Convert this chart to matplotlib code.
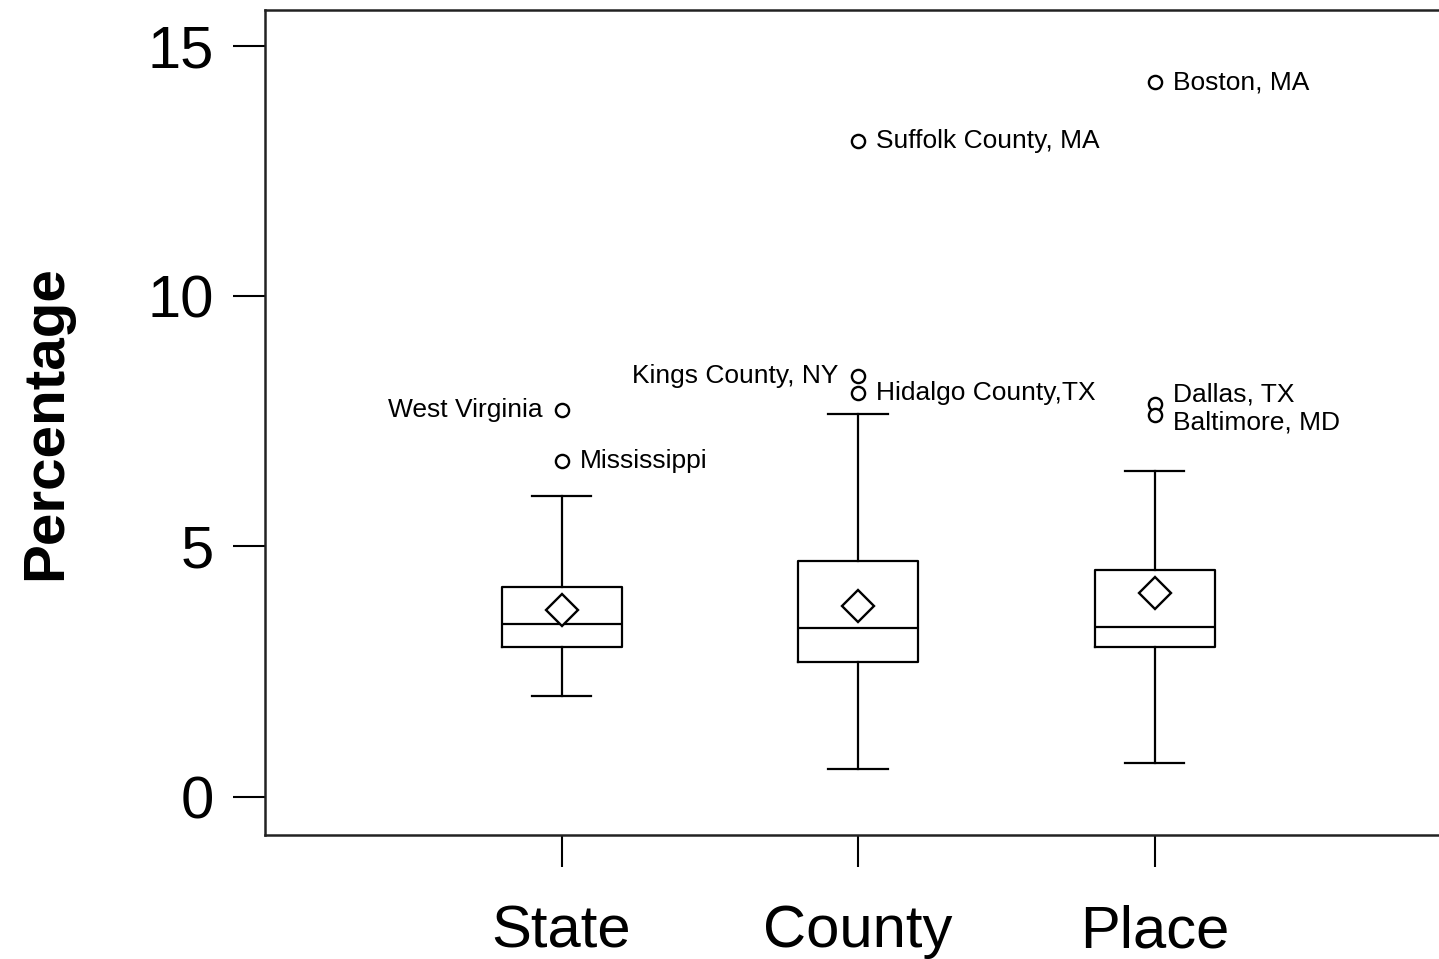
import matplotlib.pyplot as plt

plt.rcParams['font.family'] = ['Liberation Sans', 'DejaVu Sans']

# summary statistics per geography level (percent)
groups = ['State', 'County', 'Place']
whislo = [2.02, 0.56, 0.68]
q1 = [2.99, 2.69, 2.99]
med = [3.45, 3.37, 3.39]
q3 = [4.19, 4.71, 4.53]
whishi = [6.01, 7.64, 6.51]
means = [3.73, 3.81, 4.07]

# labelled outliers
out_group = [0, 0, 1, 1, 1, 2, 2, 2]
out_value = [7.72, 6.71, 8.40, 8.06, 13.09, 7.84, 7.62, 14.27]
out_name = ['West Virginia', 'Mississippi', 'Kings County, NY',
            'Hidalgo County,TX', 'Suffolk County, MA', 'Dallas, TX',
            'Baltimore, MD', 'Boston, MA']

# label placement (offset in points, horizontal alignment)
label_style = {
    'West Virginia': (-14, 0, 'right'),
    'Mississippi': (13, 0, 'left'),
    'Kings County, NY': (-14, 0, 'right'),
    'Hidalgo County,TX': (13, 0, 'left'),
    'Suffolk County, MA': (13, 0, 'left'),
    'Dallas, TX': (13, 7, 'left'),
    'Baltimore, MD': (13, -5, 'left'),
    'Boston, MA': (13, 0, 'left'),
}

fig = plt.figure(figsize=(14.39, 9.59), dpi=100)
ax = fig.add_axes([0.1842, 0.1293, 0.8242, 0.8603])

stats = []
for i, g in enumerate(groups):
    stats.append({'label': g, 'whislo': whislo[i], 'q1': q1[i], 'med': med[i],
                  'q3': q3[i], 'whishi': whishi[i], 'mean': means[i], 'fliers': []})

lw = 1.6
ax.bxp(stats, positions=[1, 2, 3], widths=0.405, showmeans=True, showfliers=False,
       boxprops=dict(color='black', linewidth=lw),
       medianprops=dict(color='black', linewidth=lw),
       whiskerprops=dict(color='black', linewidth=lw),
       capprops=dict(color='black', linewidth=lw),
       capwidths=0.2,
       meanprops=dict(marker='D', markersize=16.5, markerfacecolor='white',
                      markeredgecolor='black', markeredgewidth=1.7))

xs = [g + 1 for g in out_group]
ax.plot(xs, out_value, 'o', linestyle='none', markersize=9.5,
        markerfacecolor='white', markeredgecolor='black', markeredgewidth=1.7)

for x, y, name in zip(xs, out_value, out_name):
    dx, dy, ha = label_style[name]
    ax.annotate(name, (x, y), xytext=(dx, dy), textcoords='offset points',
                ha=ha, va='center', fontsize=19)

ax.set_xlim(0, 4)
ax.set_ylim(-0.76, 15.71)
ax.set_yticks([0, 5, 10, 15])
ax.set_xticks([1, 2, 3])
ax.set_xticklabels(groups)
ax.tick_params(axis='both', direction='out', length=23, width=1.5, color='black')
ax.tick_params(axis='y', labelsize=43, pad=14)
ax.tick_params(axis='x', labelsize=43, pad=27)

for s in ax.spines.values():
    s.set_linewidth(1.8)
    s.set_color('#222222')

ax.set_ylabel('Percentage', fontsize=42, fontweight='bold')
ax.yaxis.set_label_coords(-0.162, 0.5)

fig.savefig('out.png', dpi=100)
